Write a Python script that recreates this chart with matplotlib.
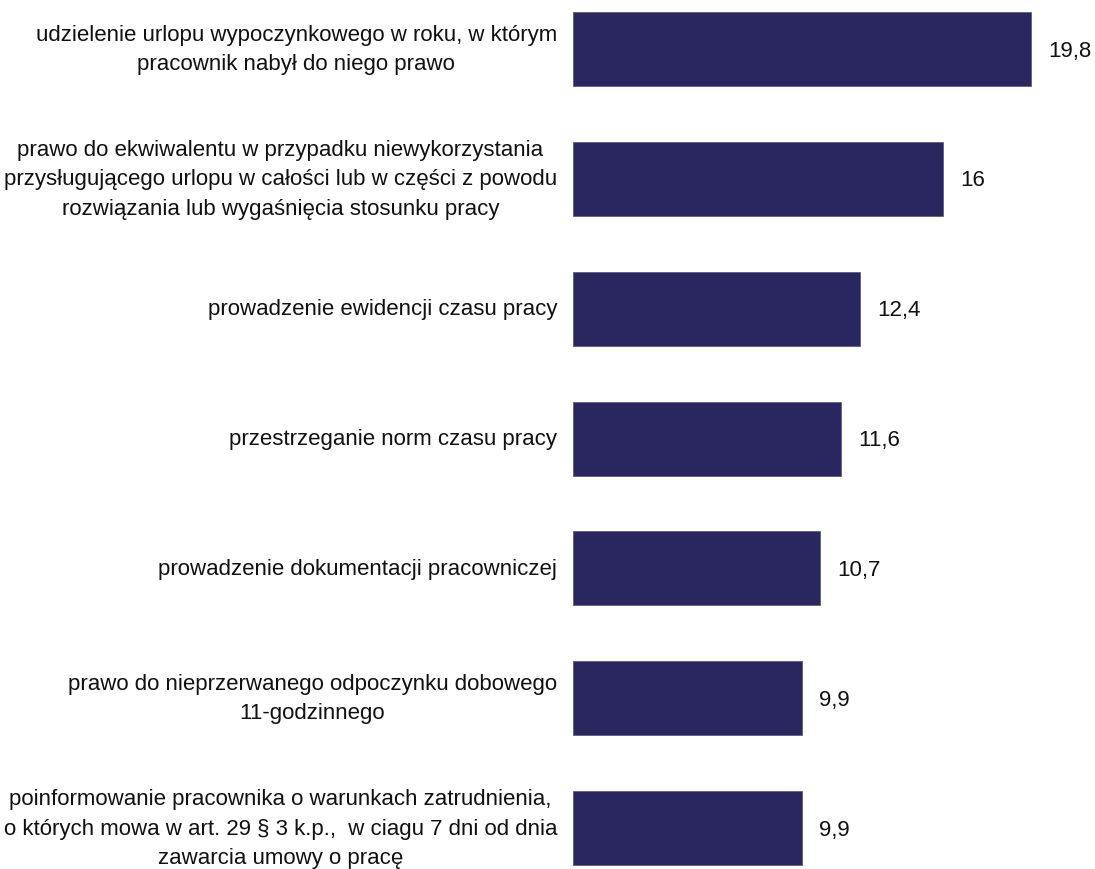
import matplotlib
matplotlib.use("Agg")
import matplotlib.pyplot as plt

categories = [
    "udzielenie urlopu wypoczynkowego w roku, w którym\npracownik nabył do niego prawo",
    "prawo do ekwiwalentu w przypadku niewykorzystania\nprzysługującego urlopu w całości lub w części z powodu\nrozwiązania lub wygaśnięcia stosunku pracy",
    "prowadzenie ewidencji czasu pracy",
    "przestrzeganie norm czasu pracy",
    "prowadzenie dokumentacji pracowniczej",
    "prawo do nieprzerwanego odpoczynku dobowego\n11-godzinnego",
    "poinformowanie pracownika o warunkach zatrudnienia,\no których mowa w art. 29 § 3 k.p.,  w ciagu 7 dni od dnia\nzawarcia umowy o pracę",
]
values = [19.8, 16, 12.4, 11.6, 10.7, 9.9, 9.9]
value_labels = ["19,8", "16", "12,4", "11,6", "10,7", "9,9", "9,9"]

plt.rcParams['font.family'] = ['Liberation Sans', 'DejaVu Sans']

W, H = 1095, 869
fig = plt.figure(figsize=(W / 100, H / 100), dpi=100)
ax_left = 573 / W
xmax = 22.0
px_per_unit = 23.13
ax_w = xmax * px_per_unit / W
ax = fig.add_axes([ax_left, 0, ax_w, 1])

ypos = list(range(len(values)))
ax.barh(ypos, values, height=0.57, color="#2A2660", edgecolor="#5F5C8C", linewidth=0.6)
ax.set_xlim(0, xmax)
top = -49.2 / 129.8
bot = (H - 49.2) / 129.8
ax.set_ylim(bot, top)
ax.axis("off")

for y, v, lab in zip(ypos, values, value_labels):
    ax.annotate(lab, xy=(v, y), xytext=(17, -2), textcoords="offset pixels",
                ha="left", va="center", fontsize=16, color="#111111")

for y, cat in zip(ypos, categories):
    ax.annotate(cat, xy=(0, y), xytext=(-16, -1), textcoords="offset pixels",
                ha="right", va="center", multialignment="center",
                fontsize=16, color="#111111", linespacing=1.53)

fig.savefig("out.png", dpi=100)
